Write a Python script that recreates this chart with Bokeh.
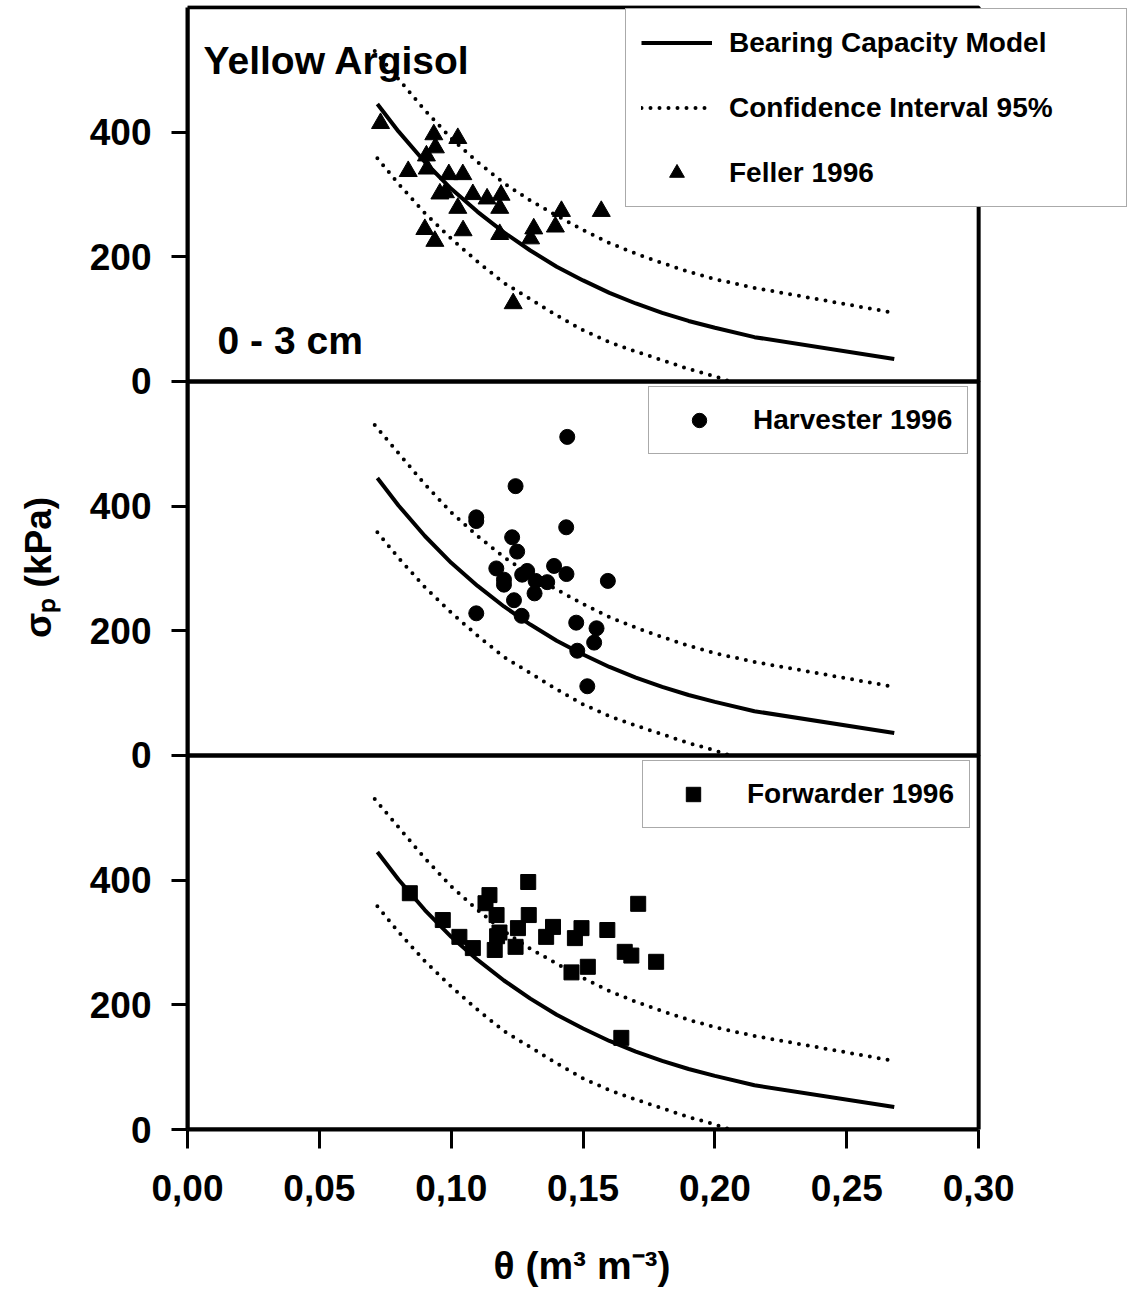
from bokeh.plotting import figure
from bokeh.models import (ColumnDataSource, Range1d, FixedTicker, BoxAnnotation,
                          Label, Legend, LegendItem, Title)
from bokeh.transform import dodge
from bokeh.embed import file_html
from bokeh.resources import INLINE

# ---------------- data ----------------
model_theta = [0.072, 0.08, 0.09, 0.10, 0.11, 0.12, 0.13, 0.14, 0.15, 0.16,
               0.17, 0.18, 0.19, 0.20, 0.215, 0.268]
model_sigma = [445, 401, 352, 309, 272, 239, 210, 184, 162, 142,
               125, 110, 97, 86, 71, 36]

upper_theta = [0.071, 0.08, 0.09, 0.10, 0.11, 0.12, 0.13, 0.14, 0.15, 0.16,
               0.17, 0.18, 0.19, 0.20, 0.215, 0.268]
upper_sigma = [530, 485, 435, 390, 352, 318, 290, 266, 243, 222,
               205, 190, 176, 164, 150, 110]

lower_theta = [0.072, 0.08, 0.09, 0.10, 0.11, 0.12, 0.13, 0.14, 0.15, 0.16,
               0.17, 0.18, 0.19, 0.20, 0.205]
lower_sigma = [358, 317, 270, 229, 192, 158, 132, 106, 82, 63,
               48, 34, 20, 8, 1]

feller_theta = [0.0732, 0.0934, 0.1025, 0.0940, 0.0906, 0.0837, 0.0909, 0.0991,
                0.1044, 0.0957, 0.0978, 0.1082, 0.1136, 0.1189, 0.1184, 0.1025,
                0.1418, 0.1569, 0.1395, 0.1313, 0.1301, 0.1184, 0.1045, 0.0900,
                0.0938, 0.1235]
feller_sigma = [414, 396, 390, 375, 362, 337, 341, 332, 332, 301, 303, 300,
                293, 299, 278, 278, 273, 273, 248, 245, 229, 236, 242, 244,
                225, 125]

harv_theta = [0.1440, 0.1244, 0.1095, 0.1095, 0.1436, 0.1231, 0.1250, 0.1171,
              0.1200, 0.1200, 0.1288, 0.1269, 0.1390, 0.1437, 0.1320, 0.1364,
              0.1316, 0.1594, 0.1238, 0.1095, 0.1267, 0.1474, 0.1551, 0.1542,
              0.1478, 0.1516]
harv_sigma = [511, 432, 382, 376, 366, 350, 327, 300, 282, 274, 296, 290, 304,
              291, 280, 278, 260, 280, 249, 228, 224, 213, 204, 181, 168, 111]

fwd_theta = [0.0843, 0.0968, 0.1031, 0.1082, 0.1292, 0.1145, 0.1130, 0.1172,
             0.1294, 0.1709, 0.1253, 0.1386, 0.1494, 0.1592, 0.1183, 0.1174,
             0.1360, 0.1469, 0.1165, 0.1244, 0.1658, 0.1683, 0.1777, 0.1518,
             0.1456, 0.1645]
fwd_sigma = [379, 336, 309, 291, 397, 376, 363, 344, 344, 362, 323, 325, 323,
             320, 316, 310, 309, 307, 288, 293, 285, 279, 269, 261, 252, 147]

x_ticks = [0.0, 0.05, 0.10, 0.15, 0.20, 0.25, 0.30]
x_tick_labels = ["0,00", "0,05", "0,10", "0,15", "0,20", "0,25", "0,30"]
y_ticks_panel = [0, 200, 400]
y_tick_labels = ["0", "200", "400"]
panel_height = 600
x_max = 0.30
# panels from bottom: forwarder, harvester, feller
panel_names = ["Forwarder 1996", "Harvester 1996", "Feller 1996"]

FONT = "Liberation Sans"

# ---------------- figure ----------------
W, H = 1129, 1293
p = figure(width=W, height=H, title=None,
           x_range=Range1d(0, 0.3572), y_range=Range1d(0, 1803),
           output_backend="svg", toolbar_location=None,
           min_border_left=187, min_border_right=0,
           min_border_top=5, min_border_bottom=164)
p.xgrid.visible = False
p.ygrid.visible = False
p.outline_line_color = None
p.background_fill_color = "white"
p.border_fill_color = "white"

curve_src = ColumnDataSource(dict(theta=model_theta, sigma=model_sigma))
upper_src = ColumnDataSource(dict(theta=upper_theta, sigma=upper_sigma))
lower_src = ColumnDataSource(dict(theta=lower_theta, sigma=lower_sigma))
point_sources = [
    ColumnDataSource(dict(theta=fwd_theta, sigma=fwd_sigma)),
    ColumnDataSource(dict(theta=harv_theta, sigma=harv_sigma)),
    ColumnDataSource(dict(theta=feller_theta, sigma=feller_sigma)),
]
markers = ["square", "circle", "triangle"]
sizes = [15, 15, 18]

model_r, ci_r, pts_r = [], [], []
for i in range(3):
    off = i * panel_height
    r1 = p.line(x="theta", y=dodge("sigma", off), source=curve_src,
                line_color="black", line_width=4)
    r2 = p.line(x="theta", y=dodge("sigma", off), source=upper_src,
                line_color="black", line_width=4, line_dash="0 9", line_cap="round")
    p.line(x="theta", y=dodge("sigma", off), source=lower_src,
           line_color="black", line_width=4, line_dash="0 9", line_cap="round")
    r3 = p.scatter(x="theta", y=dodge("sigma", off), source=point_sources[i],
                   marker=markers[i], size=sizes[i], fill_color="black",
                   line_color="black", line_width=1)
    model_r.append(r1)
    ci_r.append(r2)
    pts_r.append(r3)

# panel frames
for i in range(3):
    p.add_layout(BoxAnnotation(left=0, right=x_max, bottom=i * panel_height,
                               top=(i + 1) * panel_height, fill_color=None,
                               line_color="black", line_width=4, line_alpha=1))

# ---------------- axes ----------------
p.xaxis.ticker = FixedTicker(ticks=x_ticks)
p.xaxis.major_label_overrides = dict(zip(x_ticks, x_tick_labels))
p.xaxis.bounds = (0, x_max)
y_tick_pos = [i * panel_height + t for i in range(3) for t in y_ticks_panel]
y_tick_lab = [lab for i in range(3) for lab in y_tick_labels]
p.yaxis.ticker = FixedTicker(ticks=y_tick_pos)
p.yaxis.major_label_overrides = dict(zip(y_tick_pos, y_tick_lab))
p.yaxis.bounds = (0, 3 * panel_height)

for ax in (p.xaxis, p.yaxis):
    ax.axis_line_width = 4
    ax.axis_line_color = "black"
    ax.major_tick_in = 0
    ax.major_tick_line_width = 3
    ax.major_tick_line_color = "black"
    ax.minor_tick_line_color = None
    ax.major_label_text_font = FONT
    ax.major_label_text_font_style = "bold"
    ax.major_label_text_font_size = "37px"
    ax.major_label_text_color = "black"
    ax.axis_label_text_font = FONT
    ax.axis_label_text_font_style = "bold"
    ax.axis_label_text_color = "black"
p.xaxis.major_tick_out = 19
p.xaxis.major_label_standoff = 26
p.yaxis.major_tick_out = 16
p.yaxis.major_label_standoff = 20

p.yaxis.axis_label = "σₚ (kPa)"
p.yaxis.axis_label_text_font_size = "37px"
p.yaxis.axis_label_standoff = 28

# spacer so that the x title sits lower, as in the original
p.xaxis.axis_label = " "
p.xaxis.axis_label_text_font_size = "12px"
p.xaxis.axis_label_standoff = 16

# x-axis title, aligned under the plotted panels (0 .. 0.30)
p.add_layout(Title(text="θ (m³ m⁻³)", align="left", offset=306,
                   text_font=FONT, text_font_size="39px",
                   text_font_style="bold", text_color="black",
                   standoff=10), "below")

# ---------------- texts in panel 1 ----------------
for txt, xv, yv in (("Yellow Argisol", 0.0061, 1715), ("0 - 3 cm", 0.0114, 1266)):
    p.add_layout(Label(x=xv, y=yv, text=txt, text_font=FONT,
                       text_font_size="39px", text_font_style="bold",
                       text_color="black", text_baseline="alphabetic"))

# ---------------- legends ----------------
common = dict(label_text_font=FONT, label_text_font_style="bold",
              label_text_font_size="28px", label_text_color="black",
              border_line_color="#555555", border_line_width=1.5,
              background_fill_color="white", background_fill_alpha=1.0)

leg1 = Legend(items=[LegendItem(label="Bearing Capacity Model", renderers=[model_r[2]]),
                     LegendItem(label="Confidence Interval 95%", renderers=[ci_r[2]]),
                     LegendItem(label=panel_names[2], renderers=[pts_r[2]])],
              location=(438, 922), padding=15, spacing=28, label_height=36,
              glyph_height=37, glyph_width=71, label_standoff=17,
              label_width=382, **common)
leg2 = Legend(items=[LegendItem(label=panel_names[1], renderers=[pts_r[1]])],
              location=(461, 675), padding=15, spacing=0, label_height=36,
              glyph_height=36, glyph_width=70, label_standoff=19, **common)
leg3 = Legend(items=[LegendItem(label=panel_names[0], renderers=[pts_r[0]])],
              location=(455, 301), padding=15, spacing=0, label_height=36,
              glyph_height=36, glyph_width=70, label_standoff=19, **common)
for lg in (leg1, leg2, leg3):
    p.add_layout(lg)

open("out.html", "w").write(file_html(p, INLINE))
